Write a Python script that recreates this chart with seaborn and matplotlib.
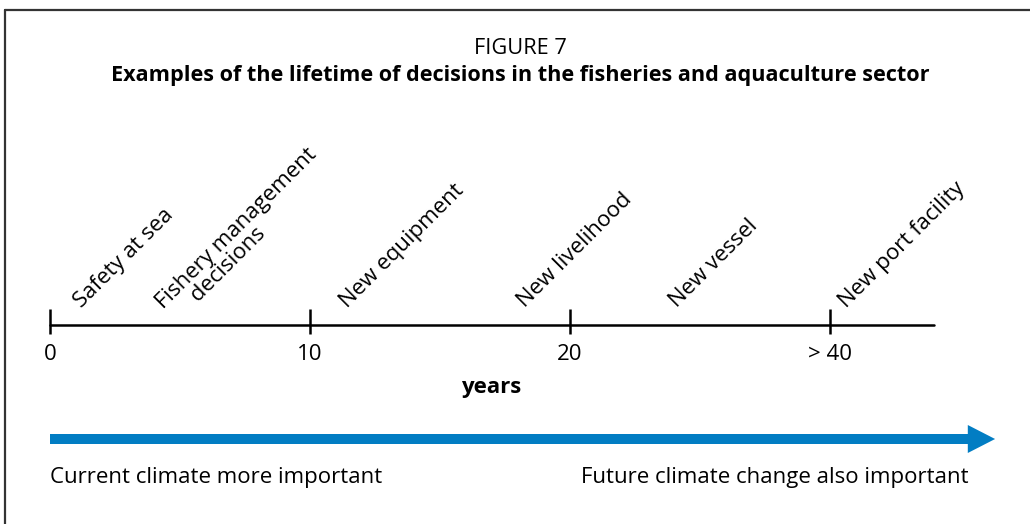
import numpy as np
import pandas as pd
import seaborn as sb
import matplotlib.pyplot as plt

sb.set_style('white')
plt.rcParams['font.family'] = ['Open Sans', 'DejaVu Sans']
plt.rcParams['text.color'] = 'black'

# timeline data (years, 30 on the axis stands for "> 40")
tick_pos = [0, 10, 20, 30]
tick_labels = ['0', '10', '20', '> 40']
axis_end = 34
decisions = ['Safety at sea', 'Fishery management\n     decisions', 'New equipment',
             'New livelihood', 'New vessel', 'New port facility']
decision_pos = [1.2, 4.95, 11.45, 18.25, 24.1, 30.65]

title_top = 'FIGURE 7'
title = 'Examples of the lifetime of decisions in the fisheries and aquaculture sector'
left_note = 'Current climate more important'
right_note = 'Future climate change also important'
blue = '#027DC3'

W, H = 1030, 524
px = 26.0  # pixels per year
fs = 16
f = plt.figure(figsize=(W / 100, H / 100), dpi=100)
ax = f.add_axes([0, 0, 1, 1])
ax.set_xlim(-50 / px, (W - 50) / px)
ax.set_ylim(H, 0)
ax.axis('off')

# frame (top and left edge only visible)
f.add_artist(plt.Line2D([5 / W, 1], [1 - 10 / H, 1 - 10 / H], color='#333333', lw=1.6))
f.add_artist(plt.Line2D([5 / W, 5 / W], [1 - 10 / H, 0], color='#333333', lw=1.6))

f.text(520 / W, 1 - 48 / H, title_top, ha='center', va='center', fontsize=15.7)
f.text(520 / W, 1 - 76 / H, title, ha='center', va='center', fontsize=15.6, fontweight='bold')

line = pd.DataFrame({'x': [0, axis_end], 'y': [325, 325]})
sb.lineplot(data=line, x='x', y='y', ax=ax, color='black', lw=1.8)
ax.vlines(tick_pos, 309, 334, color='black', lw=1.8)
for t, lab in zip(tick_pos, tick_labels):
    ax.text(t, 355, lab, ha='center', va='center', fontsize=fs)
ax.text(16.96, 388, 'years', ha='center', va='center', fontsize=fs, fontweight='bold')

for p, lab in zip(decision_pos, decisions):
    # multi-line labels anchor on their last baseline
    y = 308 + 16 * lab.count('\n')
    ax.text(p, y, lab, rotation=45, rotation_mode='anchor', ha='left', va='baseline',
            multialignment='left', fontsize=fs, linespacing=0.95)

ax.arrow(0, 439, 36.35, 0, width=10, head_width=28, head_length=1.05,
         length_includes_head=True, color=blue, lw=0)

ax.text(0, 477, left_note, ha='left', va='center', fontsize=fs)
ax.text(35.35, 477, right_note, ha='right', va='center', fontsize=fs)

f.savefig('out.png', dpi=100)
